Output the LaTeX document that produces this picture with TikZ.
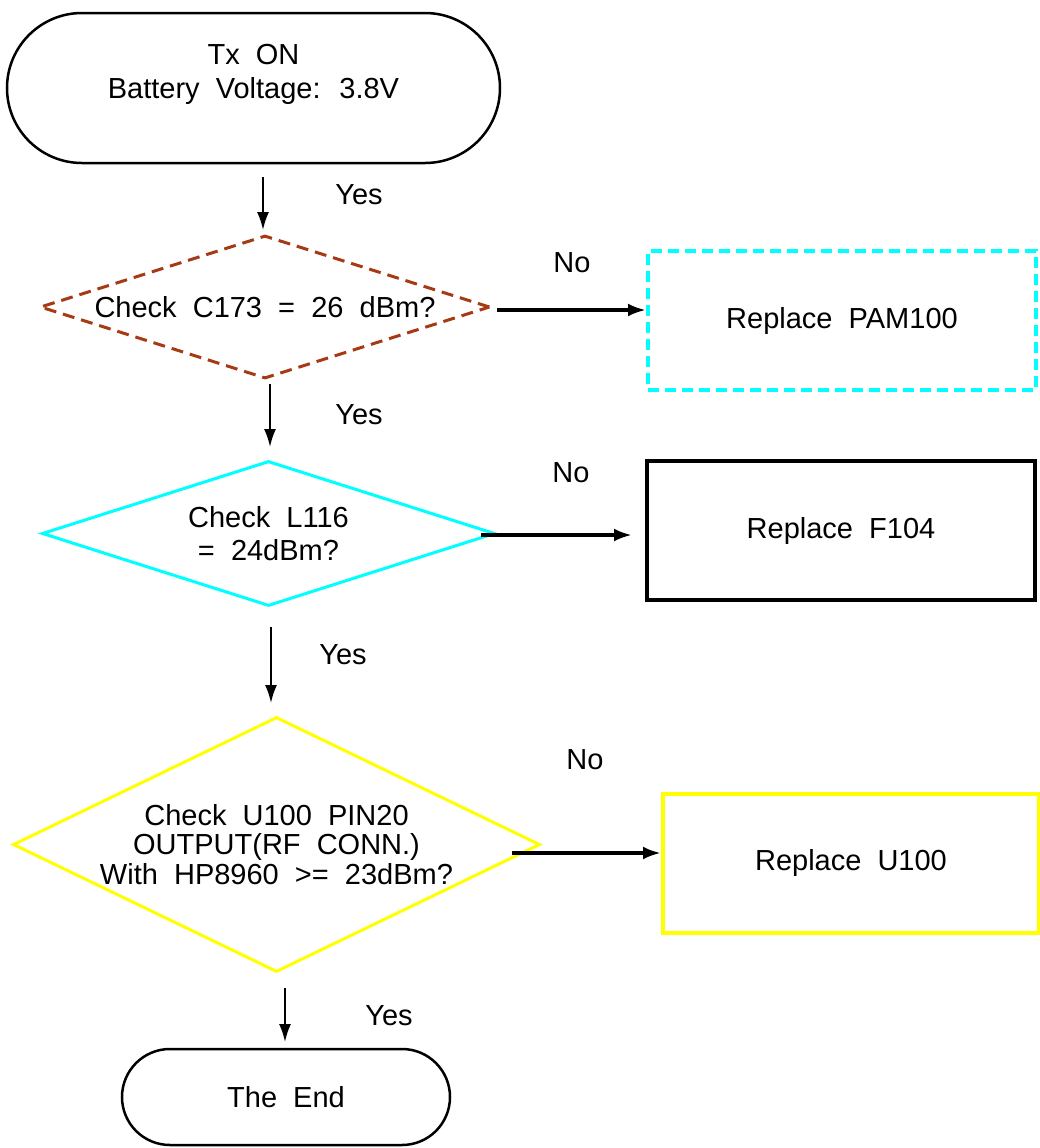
\documentclass[tikz,border=0pt]{standalone}
\usepackage{fontspec}
\setmainfont[WordSpace=2]{Liberation Sans}
\usetikzlibrary{shapes.geometric,arrows.meta}
\definecolor{checkBrown}{RGB}{166,58,20}
\definecolor{checkCyan}{RGB}{0,255,255}
\definecolor{checkYellow}{RGB}{255,255,0}
\newcommand{\tFlowFont}[1]{\fontsize{14.5pt}{#1}\selectfont}

\begin{document}
\begin{tikzpicture}[x=0.5pt,y=-0.5pt,
  termBox/.style={draw, line width=1.25pt, rounded corners=#1, inner sep=0pt, align=center},
  checkBox/.style={diamond, line width=1.5pt, inner sep=0pt, align=center},
  replaceBox/.style={rectangle, line width=2pt, inner sep=0pt, minimum width=194pt, minimum height=69.5pt},
  answer/.style={inner sep=0pt},
  flowDown/.style={line width=1pt, -{Latex[length=9pt,width=6pt]}},
  flowRight/.style={line width=1.75pt, -{Latex[length=9pt,width=6.5pt]}},
  font=\tFlowFont{17pt}]
\useasboundingbox (0,0) rectangle (1040,1148);
\node[termBox=37.5pt, minimum width=246.5pt, minimum height=75pt] (txOn) at (253.5,88) {Tx ON\\Battery Voltage: 3.8V\\\mbox{}};
\node[checkBox, draw=checkBrown, dash pattern=on 6pt off 3.5pt, minimum width=225pt, minimum height=71.5pt, aspect=3.1] (c173) at (265,307) {Check C173 = 26 dBm?};
\node[checkBox, draw=checkCyan, minimum width=226.5pt, minimum height=72.5pt, aspect=3.1, font=\tFlowFont{16.5pt}] (l116) at (268.5,533.5) {Check L116\\= 24dBm?};
\node[checkBox, draw=checkYellow, minimum width=263.5pt, minimum height=127.5pt, aspect=2.07, font=\tFlowFont{14.75pt}] (u100pin) at (276.5,844.5) {Check U100 PIN20\\OUTPUT(RF CONN.)\\With HP8960 >= 23dBm?};
\node[termBox=24pt, minimum width=164pt, minimum height=48pt] (theEnd) at (286,1097) {The End};
\node[replaceBox, draw=checkCyan, dash pattern=on 5.5pt off 3pt] (pam) at (842,320.5) {Replace PAM100};
\node[replaceBox, draw=black] (f104) at (841,530.5) {Replace F104};
\node[replaceBox, draw=checkYellow, minimum width=188pt] (u100) at (851,863) {Replace U100};
\node[answer] (yes1) at (359,195) {Yes};
\node[answer] (yes2) at (359,415) {Yes};
\node[answer] (yes3) at (343,655) {Yes};
\node[answer] (yes4) at (389,1016) {Yes};
\node[answer] (no1) at (572,263) {No};
\node[answer] (no2) at (571,473) {No};
\node[answer] (no3) at (585,760) {No};
\coordinate (down1) at (263,177);
\coordinate (down2) at (270,384);
\coordinate (down3) at (271,627);
\coordinate (down4) at (285,988);
\coordinate (right1) at (497,310);
\coordinate (right2) at (481,535);
\coordinate (right3) at (512,853);
\coordinate (right2end) at (632,535);
\draw[flowDown] (down1) -- (down1 |- 0,230);
\draw[flowDown] (down2) -- (down2 |- 0,447);
\draw[flowDown] (down3) -- (down3 |- 0,703);
\draw[flowDown] (down4) -- (down4 |- 0,1042);
\draw[flowRight] (right1) -- (right1 -| pam.west);
\draw[flowRight] (right2) -- (right2end);
\draw[flowRight] (right3) -- (right3 -| u100.west);
\end{tikzpicture}
\end{document}
